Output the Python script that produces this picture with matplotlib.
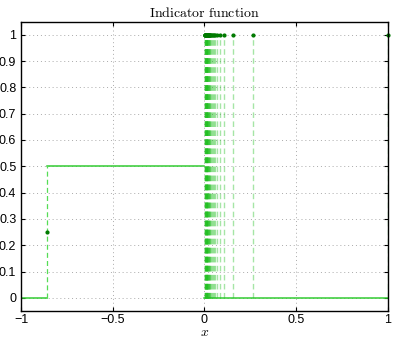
import matplotlib
matplotlib.use("Agg")
import matplotlib.pyplot as plt
import numpy as np

plt.rcParams['mathtext.fontset'] = 'cm'
plt.rcParams['font.family'] = ['Liberation Sans', 'DejaVu Sans']

# step function pieces (x start, x end, value)
step_x = [-1, -0.86, -0.86, 0, 0, 1]
step_y = [0, 0, 0.5, 0.5, 0, 0]

# jump point and its midpoint value
jump_x = [-0.86]
jump_y = [0.25]
jump_top = [0.5]

# sample points where the indicator equals 1
pts_x = [0.267, 0.156, 0.109, 0.084, 0.069, 0.058, 0.050, 0.044, 0.039,
         0.035, 0.032, 0.029, 0.027, 0.025, 0.023, 0.021, 0.019, 0.017,
         0.016, 0.015, 0.014, 0.013, 0.012, 0.011, 0.010, 0.009, 0.008,
         0.007, 0.006, 0.005, 0.004, 0.003, 0.002, 0.001, 1.0]
pts_y = [1] * len(pts_x)

fig = plt.figure(figsize=(3.99, 3.38), dpi=100)
ax = fig.add_axes([0.053, 0.08, 0.919, 0.856])

light = '#33cc33'
dark = '#007a00'

# segments drawn separately so no vertical solid links
ax.plot(step_x[0:2], step_y[0:2], color=light, lw=1.1)
ax.plot(step_x[2:4], step_y[2:4], color=light, lw=1.1)
ax.plot(step_x[4:6], step_y[4:6], color=light, lw=1.1)

for x, top in zip(jump_x, jump_top):
    ax.plot([x, x], [0, top], color='#55dd55', lw=0.9, ls=(0, (4, 2.5)))
ax.plot(jump_x, jump_y, '.', color=dark, ms=4)

for x, y in zip(pts_x, pts_y):
    ax.plot([x, x], [0, y], color='#22c022', lw=1.0, ls=(0, (4, 2.5)), alpha=0.4)
ax.plot(pts_x, pts_y, '.', color=dark, ms=4, clip_on=False)

ax.set_xlim(-1, 1)
ax.set_ylim(-0.05, 1.05)
ax.set_xticks([-1, -0.5, 0, 0.5, 1])
ax.set_xticklabels(['\u22121', '\u22120.5', '0', '0.5', '1'])
ax.set_yticks(np.arange(0, 1.01, 0.1))
ax.set_yticklabels(['0', '0.1', '0.2', '0.3', '0.4', '0.5', '0.6', '0.7', '0.8', '0.9', '1'])
ax.tick_params(direction='in', labelsize=9, length=3, top=True, right=True)
ax.tick_params(axis='x', pad=2)
ax.grid(True, ls=(0, (1, 3)), color='#aaaaaa', lw=0.7)
for s in ax.spines.values():
    s.set_linewidth(1.0)

ax.set_title(r'$\mathrm{Indicator\ function}$', fontsize=10, pad=3)
ax.set_xlabel(r'$x$', fontsize=10, labelpad=-0.5)

fig.savefig('out.png', dpi=100)
